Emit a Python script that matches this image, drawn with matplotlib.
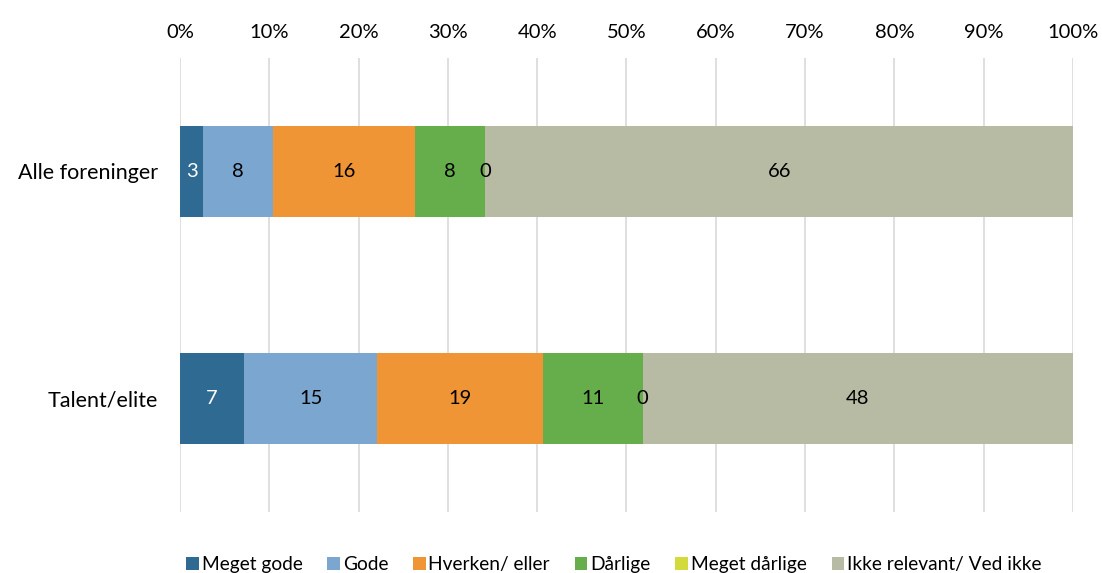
import numpy as np
import matplotlib.pyplot as plt

plt.rcParams['font.family'] = ['Lato', 'DejaVu Sans']

categories = ["Alle foreninger", "Talent/elite"]
series = ["Meget gode", "Gode", "Hverken/ eller", "Dårlige", "Meget dårlige",
          "Ikke relevant/ Ved ikke"]
# percent shares (rows = categories)
values = np.array([
    [2.6, 7.8, 15.9, 7.9, 0.0, 65.8],
    [7.2, 14.9, 18.6, 11.1, 0.0, 48.2],
])
colors = ["#2f6a92", "#7aa6cf", "#ef9535", "#66ad4c", "#d3da3b", "#b8bba4"]
text_colors = ["white", "black", "black", "black", "black", "black"]

fig = plt.figure(figsize=(11.02, 5.73), dpi=100)
ax = fig.add_axes([0.1633, 0.1065, 0.8104, 0.7923])

y = np.arange(len(categories))
left = np.zeros(len(categories))
for j, name in enumerate(series):
    vals = values[:, j]
    ax.barh(y, vals, left=left, height=0.4, color=colors[j], label=name, zorder=3)
    for i in range(len(categories)):
        ax.text(left[i] + vals[i] / 2, y[i], f"{vals[i]:.0f}", ha='center', va='center',
                fontsize=14.5, color=text_colors[j], zorder=4)
    left += vals

ax.set_xlim(0, 100)
ax.set_ylim(len(categories) - 0.5, -0.5)
ax.set_yticks(y)
ax.set_yticklabels(categories, fontsize=15.5)
ax.set_xticks(np.arange(0, 101, 10))
ax.set_xticklabels([f"{t}%" for t in range(0, 101, 10)], fontsize=14.5)
ax.xaxis.tick_top()
ax.tick_params(axis='both', length=0)
ax.tick_params(axis='x', pad=12)
ax.tick_params(axis='y', pad=16)
ax.grid(axis='x', color='#d9d9d9', linewidth=1.2, zorder=0)
for s in ax.spines.values():
    s.set_visible(False)

fig.legend(loc='center', bbox_to_anchor=(0.557, 0.014), ncol=6, frameon=False,
           fontsize=13.8, handlelength=0.65, handleheight=0.65, handletextpad=0.15,
           columnspacing=1.3)

fig.savefig("out.png", dpi=100)
